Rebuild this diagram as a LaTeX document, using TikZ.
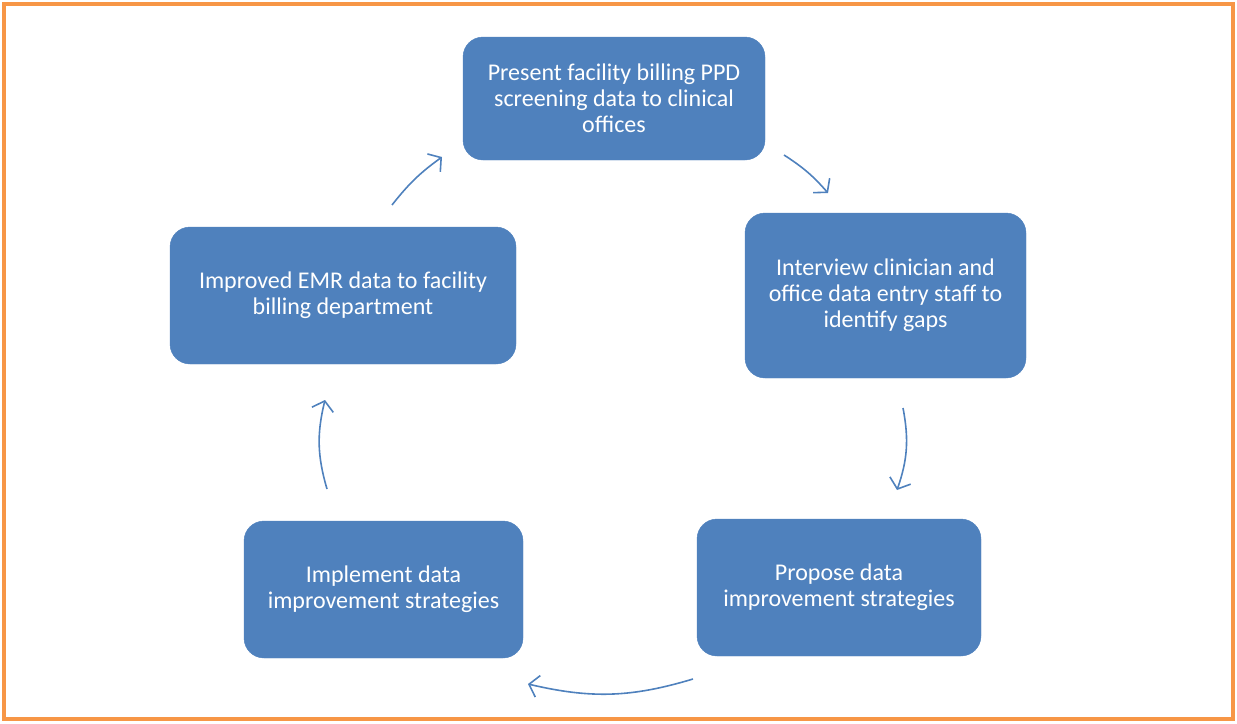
\documentclass[tikz,border=0pt]{standalone}
\usepackage{fontspec}
\setmainfont{Carlito}
\usepackage{tikz}
\usetikzlibrary{arrows.meta}
\definecolor{boxblue}{HTML}{4F81BD}
\definecolor{frameorange}{HTML}{F79646}

\begin{document}
\begin{tikzpicture}[x=1pt,y=1pt,every node/.style={outer sep=0pt}]
\tikzstyle{stage}=[draw=boxblue,fill=boxblue,rounded corners=20pt,text=white,
   align=center,font=\fontsize{24}{26}\selectfont,inner sep=0pt]
\tikzstyle{cycle}=[draw=boxblue,line width=1.6pt,
   -{Straight Barb[length=9pt,width=22pt,line width=1.6pt]},bend left=15]

\useasboundingbox (0,0) rectangle (1237,-723);
\draw [frameorange,line width=4pt] (4,-4) rectangle (1233,-719);

\node (present) [stage,minimum width=302pt,minimum height=123pt] at (614,-98.5)
   {Present facility billing PPD\\screening data to clinical\\offices};
\node (interview) [stage,minimum width=281pt,minimum height=165pt] at (885.5,-295.5)
   {Interview clinician and\\office data entry staff to\\identify gaps};
\node (propose) [stage,minimum width=284pt,minimum height=137pt] at (839,-587.5)
   {Propose data\\improvement strategies};
\node (implement) [stage,minimum width=279pt,minimum height=137pt] at (383.5,-589.5)
   {Implement data\\improvement strategies};
\node (improved) [stage,minimum width=346pt,minimum height=137pt] at (343,-295.5)
   {Improved EMR data to facility\\billing department};

% arrow ends between the boxes
\coordinate (a1) at (784,-155);  \coordinate (a2) at (828,-193);
\coordinate (b1) at (903,-408);  \coordinate (b2) at (897,-490);
\coordinate (c1) at (693,-679);  \coordinate (c2) at (528,-684);
\coordinate (d1) at (327,-489);  \coordinate (d2) at (325,-400);
\coordinate (e1) at (392,-205);  \coordinate (e2) at (442,-157);

\draw [cycle,bend left=8] (a1) to (a2);
\draw [cycle] (b1) to (b2);
\draw [cycle] (c1) to (c2);
\draw [cycle] (d1) to (d2);
\draw [cycle,bend left=8] (e1) to (e2);

\end{tikzpicture}
\end{document}
